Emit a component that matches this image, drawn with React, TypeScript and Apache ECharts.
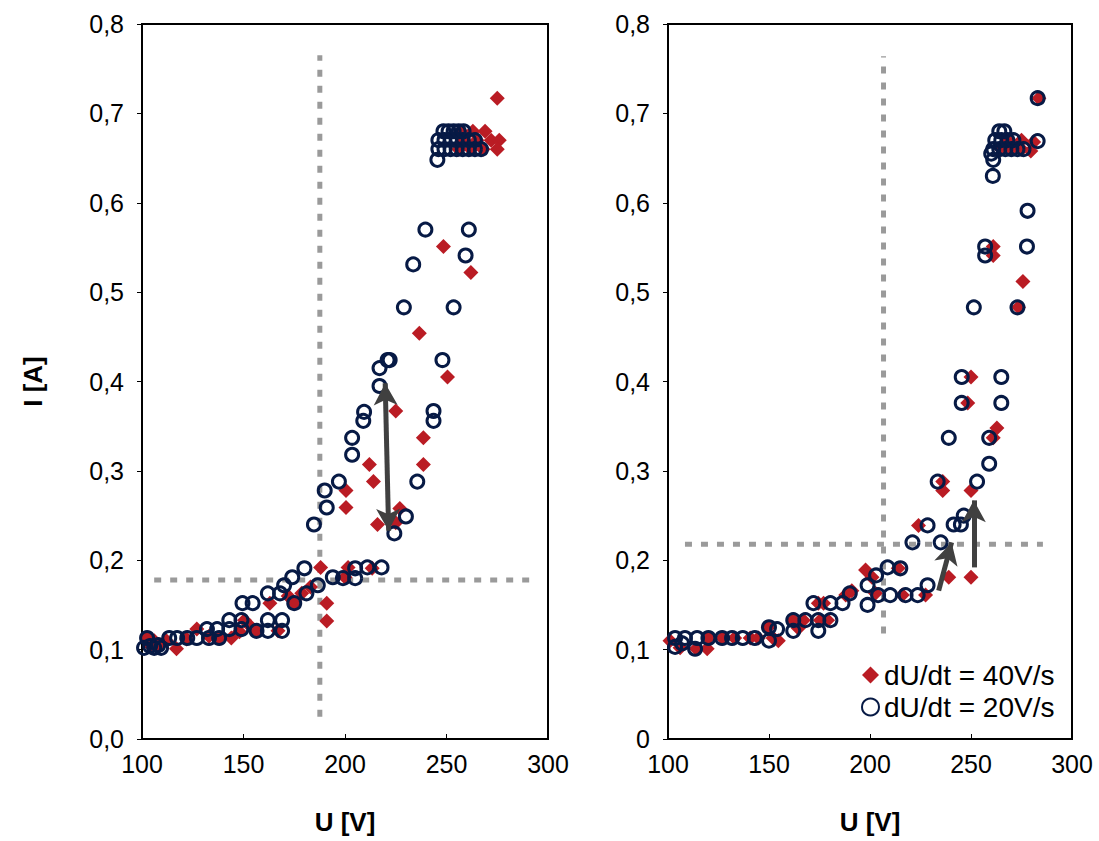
import React, { useEffect, useRef } from "react";
import * as echarts from "echarts";

// ---------- data ----------
const xTicks = [100, 150, 200, 250, 300];
const yTicks = [0, 0.1, 0.2, 0.3, 0.4, 0.5, 0.6, 0.7, 0.8];

const SERIES_40 = "dU/dt = 40V/s";
const SERIES_20 = "dU/dt = 20V/s";

// Left panel, dU/dt = 40 V/s  [U, I]
const leftRed: [number, number][] = [
  [102.5, 0.113], [104, 0.105], [106, 0.11], [108, 0.104], [112, 0.11], [117, 0.101],
  [122, 0.112], [127, 0.123], [133, 0.115], [138, 0.113], [144, 0.113], [148, 0.12],
  [150.5, 0.133], [153, 0.127], [156.4, 0.121], [163, 0.152], [167, 0.121], [172, 0.16],
  [175, 0.152], [178.7, 0.163], [183, 0.17], [188, 0.192], [191, 0.152], [191, 0.132],
  [200, 0.181], [201.5, 0.192], [213.4, 0.191], [200.5, 0.278], [200.5, 0.259],
  [212, 0.307], [214, 0.288], [216, 0.24], [225, 0.367], [227, 0.258], [225, 0.242],
  [238.6, 0.337], [238.6, 0.307], [236.6, 0.454], [250.5, 0.405], [248.5, 0.551],
  [262, 0.522], [257, 0.68], [263, 0.68], [269, 0.68], [258, 0.67], [265, 0.67],
  [272, 0.67], [276, 0.67], [256, 0.66], [262, 0.66], [268, 0.66], [275, 0.66],
  [275, 0.717],
];

// Left panel, dU/dt = 20 V/s
const leftBlue: [number, number][] = [
  [101, 0.102], [102.5, 0.113], [104, 0.104], [106, 0.102], [108, 0.105], [109.4, 0.102],
  [113.4, 0.113], [117.3, 0.113], [122.3, 0.113], [127, 0.113], [132, 0.123], [133, 0.113],
  [137, 0.123], [138, 0.113], [143, 0.133], [143, 0.123], [149, 0.133], [149.5, 0.152],
  [149, 0.123], [154.5, 0.152], [156.4, 0.121], [162, 0.133], [162, 0.121], [169, 0.133],
  [169, 0.121], [162, 0.163], [168, 0.163], [170, 0.172], [174, 0.181], [175, 0.152],
  [180, 0.191], [181, 0.163], [186.6, 0.172], [194, 0.181], [199, 0.18], [205, 0.191],
  [205, 0.18], [211, 0.192], [218, 0.192], [184.7, 0.24], [190, 0.278], [191, 0.259],
  [197, 0.288], [203.5, 0.318], [203.5, 0.337], [209, 0.356], [209.4, 0.366],
  [217, 0.395], [217, 0.415], [221, 0.424], [222, 0.424], [224.3, 0.23], [230, 0.249],
  [235.6, 0.288], [243.6, 0.356], [243.6, 0.367], [248, 0.424], [229, 0.483],
  [253.5, 0.483], [233.6, 0.531], [259.4, 0.541], [239.6, 0.57], [261, 0.57],
  [245.5, 0.648], [246, 0.66], [249, 0.66], [252, 0.66], [255, 0.66], [258, 0.66],
  [261, 0.66], [264, 0.66], [267, 0.66], [246, 0.67], [249, 0.67], [252, 0.67],
  [255, 0.67], [258, 0.67], [261, 0.67], [264, 0.67], [248.5, 0.68], [251, 0.68],
  [253.5, 0.68], [256, 0.68], [258.4, 0.68],
];

// Right panel, dU/dt = 40 V/s
const rightRed: [number, number][] = [
  [101, 0.11], [106, 0.102], [114, 0.101], [119.4, 0.101], [120, 0.113], [127, 0.113],
  [133, 0.113], [140.7, 0.113], [144.7, 0.113], [149.6, 0.125], [152, 0.113],
  [154.6, 0.11], [162, 0.133], [164.5, 0.124], [167, 0.133], [174.4, 0.152],
  [175.4, 0.133], [179, 0.133], [177, 0.152], [188, 0.161], [191, 0.166], [197.8, 0.189],
  [201, 0.181], [202.7, 0.163], [214, 0.191], [216, 0.161], [227.5, 0.161], [224, 0.239],
  [239, 0.181], [250, 0.181], [236, 0.288], [236, 0.278], [250, 0.278], [261, 0.337],
  [262.8, 0.348], [248.4, 0.376], [250, 0.405], [261, 0.541], [261, 0.551],
  [273.5, 0.483], [275.7, 0.512], [265, 0.66], [270, 0.66], [275, 0.66], [279.6, 0.658],
  [268, 0.67], [275, 0.67], [281, 0.668], [283.6, 0.717],
];

// Right panel, dU/dt = 20 V/s
const rightBlue: [number, number][] = [
  [103.5, 0.113], [103.5, 0.103], [107, 0.107], [108.4, 0.113], [113.4, 0.101],
  [114.4, 0.113], [120, 0.113], [126.8, 0.113], [131.7, 0.113], [137, 0.113], [143, 0.113],
  [150, 0.11], [150, 0.125], [154, 0.123], [162, 0.133], [162, 0.121], [168, 0.133],
  [174.4, 0.133], [174.4, 0.121], [180.4, 0.133], [172, 0.152], [180.4, 0.152],
  [186.4, 0.152], [190, 0.163], [198.8, 0.172], [198.8, 0.15], [204, 0.161], [210, 0.161],
  [217.6, 0.161], [223.6, 0.161], [228.5, 0.172], [203, 0.183], [208.7, 0.192],
  [215, 0.191], [221, 0.22], [228.5, 0.239], [235, 0.22], [241.4, 0.24], [245, 0.24],
  [246.4, 0.25], [233.5, 0.288], [253, 0.288], [239, 0.337], [259, 0.337], [259, 0.308],
  [245.4, 0.405], [265, 0.405], [245.4, 0.376], [265, 0.376], [251.4, 0.483],
  [273, 0.483], [257, 0.551], [257, 0.541], [277.7, 0.551], [278, 0.591], [260.8, 0.63],
  [261, 0.648], [260, 0.655], [261, 0.66], [264, 0.66], [267, 0.66], [270, 0.66],
  [273, 0.66], [276, 0.66], [262, 0.67], [265, 0.67], [268, 0.67], [271, 0.67],
  [264, 0.68], [266.5, 0.68], [283, 0.669], [283, 0.717],
];

// Dotted reference lines [U, I] endpoints
const leftVRef: [number, number][] = [[187.6, 0.025], [187.6, 0.765]];
const leftHRef: [number, number][] = [[106, 0.178], [291, 0.178]];
const rightVRef: [number, number][] = [[206.7, 0.118], [206.7, 0.764]];
const rightHRef: [number, number][] = [[108.4, 0.218], [285.6, 0.218]];

// Arrows [from, to]
const leftArrow: [number, number][] = [[219.8, 0.398], [221.5, 0.233]];
const rightArrow1: [number, number][] = [[234, 0.166], [240.4, 0.22]];
const rightArrow2: [number, number][] = [[251.4, 0.192], [251.4, 0.267]];

// ---------- styles ----------
const RED = "#BA1C24";
const NAVY = "#071A45";
const GRAY = "#9A9A9A";
const ARROW = "#404040";
const FONT = "Liberation Sans, Arial, sans-serif";
const TICK_FONT = 25;

const fmtLeft = (v: number) => v.toFixed(1).replace(".", ",");
const fmtRight = (v: number) => (v === 0 ? "0" : v.toFixed(1).replace(".", ","));

function xAxisCfg(gridIndex: number) {
  return {
    type: "value",
    gridIndex,
    min: xTicks[0],
    max: xTicks[xTicks.length - 1],
    interval: 50,
    name: "U [V]",
    nameLocation: "middle",
    nameGap: 70,
    nameTextStyle: { fontFamily: FONT, fontSize: 26, fontWeight: "bold", color: "#000" },
    axisLine: { show: true, lineStyle: { color: "#000", width: 2 } },
    axisTick: { show: true, inside: true, length: 5, lineStyle: { color: "#000", width: 1 } },
    axisLabel: { fontFamily: FONT, fontSize: TICK_FONT, color: "#000", margin: 12 },
    splitLine: { show: false },
  };
}

function yAxisCfg(gridIndex: number, fmt: (v: number) => string, withName: boolean) {
  return {
    type: "value",
    gridIndex,
    min: yTicks[0],
    max: yTicks[yTicks.length - 1],
    interval: 0.1,
    name: withName ? "I [A]" : "",
    nameLocation: "middle",
    nameGap: 96,
    nameRotate: 90,
    nameTextStyle: { fontFamily: FONT, fontSize: 26, fontWeight: "bold", color: "#000" },
    axisLine: { show: true, lineStyle: { color: "#000", width: 2 } },
    axisTick: { show: true, inside: false, length: 5, lineStyle: { color: "#000", width: 1 } },
    axisLabel: { fontFamily: FONT, fontSize: TICK_FONT, color: "#000", margin: 18, formatter: fmt },
    splitLine: { show: false },
  };
}

function refLine(data: [number, number][], idx: number) {
  return {
    type: "line",
    xAxisIndex: idx,
    yAxisIndex: idx,
    data,
    symbol: "none",
    silent: true,
    z: 1,
    lineStyle: { color: GRAY, width: 5, type: [7, 9], cap: "butt" },
  };
}

function arrowSeries(arrows: { line: [number, number][]; both: boolean }[], idx: number) {
  return {
    type: "scatter",
    xAxisIndex: idx,
    yAxisIndex: idx,
    data: [],
    silent: true,
    z: 5,
    markLine: {
      silent: true,
      animation: false,
      label: { show: false },
      lineStyle: { color: ARROW, width: 5, type: "solid", opacity: 1 },
      data: arrows.map((a) => [
        { coord: a.line[0], symbol: a.both ? "arrow" : "none", symbolSize: [18, 22] },
        { coord: a.line[1], symbol: "arrow", symbolSize: [18, 22] },
      ]),
    },
  };
}

function redSeries(data: [number, number][], idx: number) {
  return {
    name: SERIES_40,
    type: "scatter",
    xAxisIndex: idx,
    yAxisIndex: idx,
    data,
    symbol: "diamond",
    symbolSize: 15,
    z: 3,
    itemStyle: { color: RED, opacity: 1 },
  };
}

function blueSeries(data: [number, number][], idx: number) {
  return {
    name: SERIES_20,
    type: "scatter",
    xAxisIndex: idx,
    yAxisIndex: idx,
    data,
    symbol: "circle",
    symbolSize: 13,
    z: 4,
    itemStyle: { color: "rgba(255,255,255,0)", borderColor: NAVY, borderWidth: 3, opacity: 1 },
  };
}

export default function App() {
  const ref = useRef<HTMLDivElement>(null);
  useEffect(() => {
    if (!ref.current) return;
    const chart = echarts.init(ref.current, undefined, { renderer: "svg" });
    chart.setOption({
      animation: false,
      backgroundColor: "#fff",
      textStyle: { fontFamily: FONT },
      grid: [
        { left: 142, top: 24, width: 406, height: 715, show: true, borderColor: "#000", borderWidth: 2, backgroundColor: "transparent" },
        { left: 668, top: 24, width: 404, height: 715, show: true, borderColor: "#000", borderWidth: 2, backgroundColor: "transparent" },
      ],
      xAxis: [xAxisCfg(0), xAxisCfg(1)],
      yAxis: [yAxisCfg(0, fmtLeft, true), yAxisCfg(1, fmtRight, false)],
      legend: {
        data: [
          { name: SERIES_40, icon: "diamond" },
          { name: SERIES_20 },
        ],
        orient: "vertical",
        left: 856,
        top: 656,
        itemWidth: 17,
        itemHeight: 17,
        itemGap: 4,
        textStyle: { fontFamily: FONT, fontSize: 28, color: "#000" },
        selectedMode: false,
      },
      series: [
        refLine(leftVRef, 0),
        refLine(leftHRef, 0),
        refLine(rightVRef, 1),
        refLine(rightHRef, 1),
        redSeries(leftRed, 0),
        blueSeries(leftBlue, 0),
        redSeries(rightRed, 1),
        blueSeries(rightBlue, 1),
        arrowSeries([{ line: leftArrow, both: true }], 0),
        arrowSeries([{ line: rightArrow1, both: false }, { line: rightArrow2, both: false }], 1),
      ],
    });
    return () => chart.dispose();
  }, []);
  return (
    <div
      ref={ref}
      style={{ position: "fixed", left: 0, top: 0, width: 1099, height: 841, background: "#fff" }}
    />
  );
}
